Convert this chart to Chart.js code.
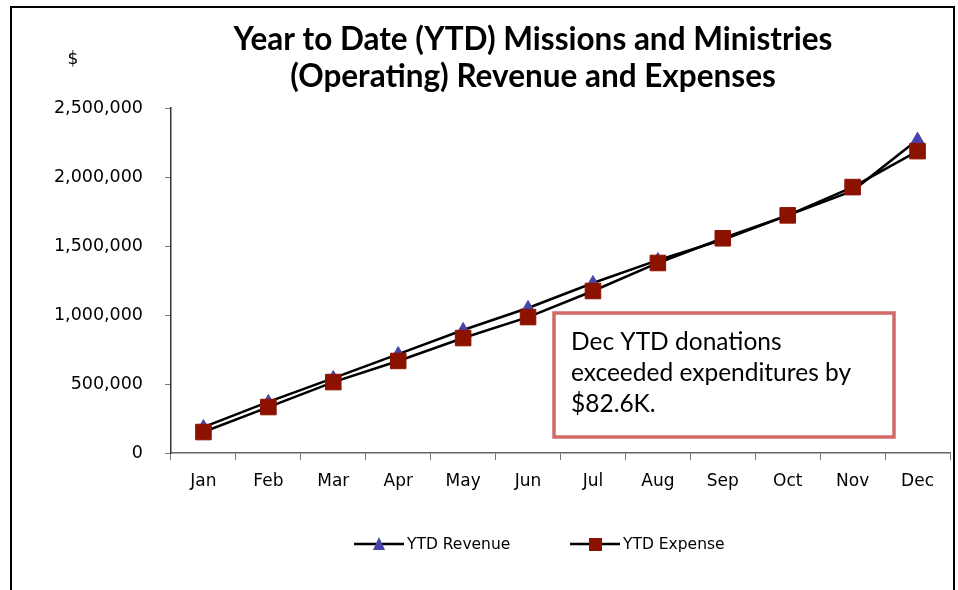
<!DOCTYPE html>
<html>
<head>
<meta charset="utf-8">
<script src="https://cdn.jsdelivr.net/npm/chart.js@4/dist/chart.umd.min.js"></script>
<style>
  html, body { margin: 0; padding: 0; background: #fff; }
  #wrap { width: 958px; height: 590px; position: relative; }
</style>
</head>
<body>
<div id="wrap"><canvas id="ytd" width="958" height="590"></canvas></div>
<script>
var months = ["Jan", "Feb", "Mar", "Apr", "May", "Jun", "Jul", "Aug", "Sep", "Oct", "Nov", "Dec"];
var ytdRevenue = [188000, 370000, 543000, 717000, 891000, 1051000, 1232000, 1398000, 1545000, 1722000, 1900000, 2270000];
var ytdExpense = [152000, 333000, 514000, 667000, 833000, 985000, 1174000, 1377000, 1556000, 1722000, 1927000, 2187400];
var yTicks = [0, 500000, 1000000, 1500000, 2000000, 2500000];
var titleLines = ["Year to Date (YTD) Missions and Ministries", "(Operating) Revenue and Expenses"];
var noteLines = ["Dec YTD donations", "exceeded expenditures by", "$82.6K."];

var revColor = "#4646aa";
var expColor = "#8c1200";
var labelFont = "'DejaVu Sans', sans-serif";

// little "line through marker" swatch for the legend
function swatch(kind, color) {
  var c = document.createElement("canvas");
  c.width = 50; c.height = 16;
  var g = c.getContext("2d");
  g.strokeStyle = "#000"; g.lineWidth = 2.5;
  g.beginPath(); g.moveTo(0, 8); g.lineTo(50, 8); g.stroke();
  g.fillStyle = color;
  if (kind === "tri") {
    g.beginPath(); g.moveTo(25, 1); g.lineTo(31, 14); g.lineTo(19, 14); g.closePath(); g.fill();
  } else {
    g.fillRect(19, 2, 13, 13);
  }
  return c;
}

var decor = {
  id: "decor",
  afterDraw: function (chart) {
    var ctx = chart.ctx;
    ctx.save();
    // outer frame
    ctx.strokeStyle = "#000"; ctx.lineWidth = 2;
    ctx.strokeRect(11, 7, 943, 600);
    // title
    ctx.fillStyle = "#000";
    ctx.textAlign = "center"; ctx.textBaseline = "middle";
    ctx.font = "bold 31.5px Lato, sans-serif";
    ctx.fillText(titleLines[0], 533, 40);
    ctx.fillText(titleLines[1], 533, 77);
    // "$" axis caption
    ctx.font = "17px " + labelFont;
    ctx.fillText("$", 73, 60);
    // note box
    ctx.fillStyle = "#fff";
    ctx.fillRect(554, 313, 340, 124);
    ctx.strokeStyle = "#d26a68"; ctx.lineWidth = 3.5;
    ctx.strokeRect(554, 313, 340, 124);
    ctx.fillStyle = "#000"; ctx.textAlign = "left";
    ctx.font = "24.5px Lato, sans-serif";
    for (var i = 0; i < noteLines.length; i++) {
      ctx.fillText(noteLines[i], 571, 342 + i * 31);
    }
    // legend
    var items = [
      { img: swatch("tri", revColor), text: chart.data.datasets[0].label, x: 354 },
      { img: swatch("sq", expColor), text: chart.data.datasets[1].label, x: 570 }
    ];
    ctx.font = "15.5px " + labelFont;
    items.forEach(function (it) {
      ctx.drawImage(it.img, it.x, 536);
      ctx.fillText(it.text, it.x + 53, 545);
    });
    ctx.restore();
  }
};

new Chart(document.getElementById("ytd"), {
  type: "line",
  data: {
    labels: months,
    datasets: [
      {
        label: "YTD Revenue",
        data: ytdRevenue,
        order: 1,
        borderColor: "#000",
        borderWidth: 2.5,
        pointStyle: "triangle",
        pointRadius: 7.5,
        pointBackgroundColor: revColor,
        pointBorderColor: revColor,
        pointBorderWidth: 1,
        tension: 0
      },
      {
        label: "YTD Expense",
        data: ytdExpense,
        order: 0,
        borderColor: "#000",
        borderWidth: 2.5,
        pointStyle: "rect",
        pointRadius: 11,
        pointBackgroundColor: expColor,
        pointBorderColor: expColor,
        pointBorderWidth: 1,
        tension: 0
      }
    ]
  },
  options: {
    responsive: false,
    animation: false,
    layout: { autoPadding: false, padding: { left: 0, right: 8, top: 108, bottom: 0 } },
    plugins: {
      legend: { display: false },
      title: { display: false },
      tooltip: { enabled: false }
    },
    scales: {
      x: {
        offset: true,
        afterFit: function (s) { s.height = 137; },
        grid: { drawOnChartArea: false, drawTicks: true, tickLength: 7, color: "#777", offset: true },
        border: { color: "#666", width: 1.5 },
        ticks: { color: "#000", padding: 11, font: { family: labelFont, size: 17 } }
      },
      y: {
        min: 0,
        max: 2500000,
        afterFit: function (s) { s.width = 171; },
        afterBuildTicks: function (s) { s.ticks = yTicks.map(function (v) { return { value: v }; }); },
        grid: { drawOnChartArea: false, drawTicks: true, tickLength: 6, color: "#777" },
        border: { color: "#333", width: 1.5 },
        ticks: {
          color: "#000",
          padding: 22,
          font: { family: labelFont, size: 17.5 },
          callback: function (v) { return v.toLocaleString("en-US"); }
        }
      }
    }
  },
  plugins: [decor]
});
</script>
</body>
</html>
